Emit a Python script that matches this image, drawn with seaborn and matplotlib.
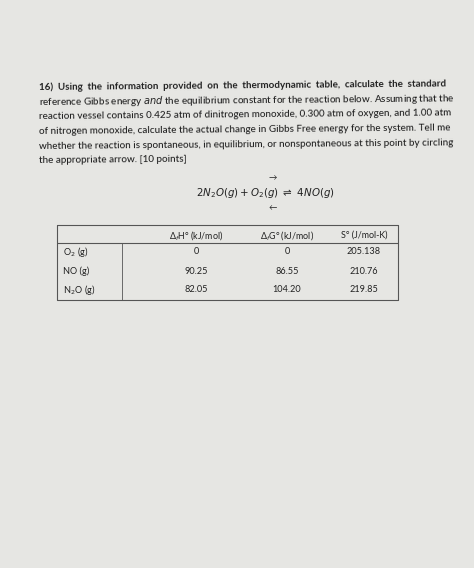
import matplotlib.pyplot as plt
import seaborn as sns

sns.set_theme(style='white')
plt.rcParams['font.family'] = ['Lato', 'DejaVu Sans']

question_lines = [
    '16)  Using  the  information  provided  on  the  thermodynamic  table,  calculate  the  standard',
    'reference Gibbs energy $\\bf{\\it{and}}$ the equilibrium constant for the reaction below. Assuming that the',
    'reaction vessel contains 0.425 atm of dinitrogen monoxide, 0.300 atm of oxygen, and 1.00 atm',
    'of nitrogen monoxide, calculate the actual change in Gibbs Free energy for the system. Tell me',
    'whether the reaction is spontaneous, in equilibrium, or nonspontaneous at this point by circling',
    'the appropriate arrow. [10 points]',
]
equation = r'$2N_2O(g) + O_2(g)\ \rightleftharpoons\ 4NO(g)$'

col_headers = ['Δ$_f$H° (kJ/mol)', 'Δ$_f$G° (kJ/mol)', 'S° (J/mol-K)']
species = ['O$_2$ (g)', 'NO (g)', 'N$_2$O (g)']
dH = ['0', '90.25', '82.05']
dG = ['0', '86.55', '104.20']
S = ['205.138', '210.76', '219.85']

fig = plt.figure(figsize=(4.74, 5.68), dpi=100)
fig.patch.set_facecolor('#e6e6e3')
ax = fig.add_axes([0, 0, 1, 1])
ax.set_xlim(0, 474)
ax.set_ylim(568, 0)
ax.axis('off')

tc = '#222222'
for i, line in enumerate(question_lines):
    y = 85 + i * 15
    ax.text(39, y, line, fontsize=7.1, color=tc, rotation=0.5, va='center', ha='left',
            fontweight='bold' if i == 0 else 'medium')

ax.text(265, 193, equation, fontsize=7.4, color=tc, ha='center', va='center')
ax.text(273, 178, '→', fontsize=6, color=tc, ha='center', va='center')
ax.text(273, 208, '←', fontsize=6, color=tc, ha='center', va='center')

# table
x0, x1, xsep = 57, 398, 122
ytop, yhead, ybot = 225, 243, 300
lc = '#555555'
ax.plot([x0, x1, x1, x0, x0], [ytop, ytop, ybot, ybot, ytop], color=lc, lw=0.8)
ax.plot([x0, x1], [yhead, yhead], color=lc, lw=0.8)
ax.plot([xsep, xsep], [yhead, ybot], color=lc, lw=0.6)
col_x = [196, 287, 364]
for cx, h in zip(col_x, col_headers):
    ax.text(cx, 235, h, fontsize=6.4, color=tc, ha='center', va='center')
for r, (sp, a, b, c) in enumerate(zip(species, dH, dG, S)):
    y = 252 + r * 19
    ax.text(63, y, sp, fontsize=6.6, color=tc, ha='left', va='center')
    for cx, v in zip(col_x, (a, b, c)):
        ax.text(cx, y, v, fontsize=6.6, color=tc, ha='center', va='center')

fig.savefig('out.png', dpi=100, facecolor=fig.get_facecolor())
